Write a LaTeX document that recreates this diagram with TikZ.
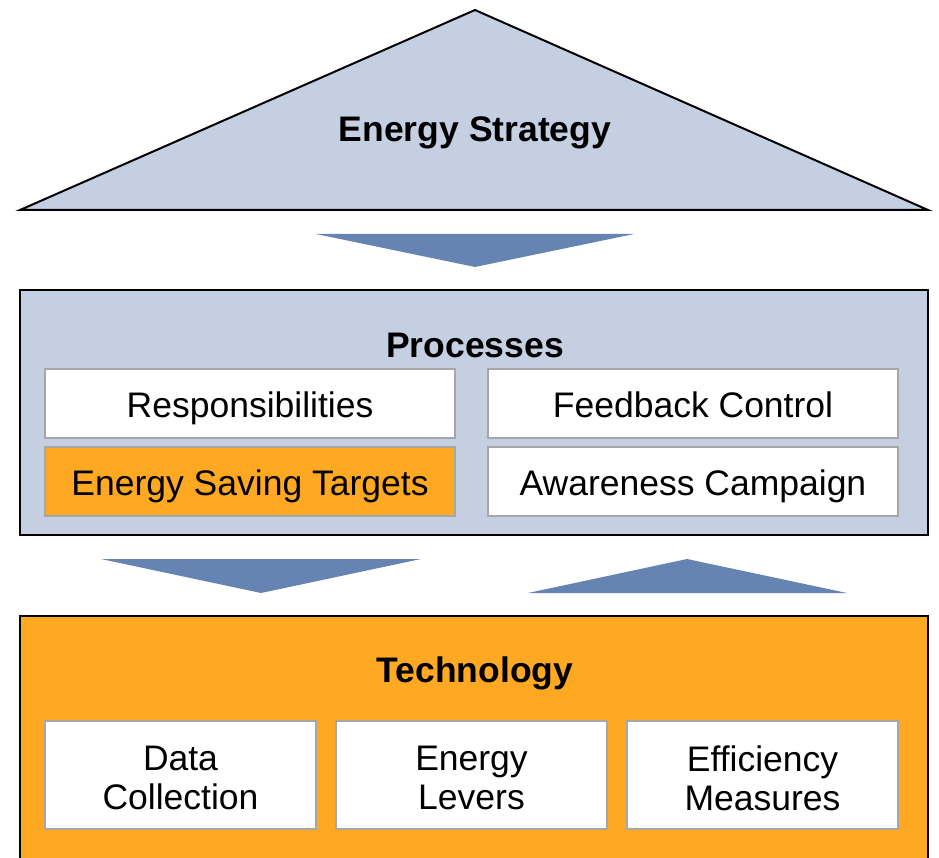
\documentclass[tikz,border=0pt]{standalone}
\usepackage{fontspec}
\setmainfont{Liberation Sans}
\definecolor{paleblue}{HTML}{C4CFE1}
\definecolor{arrowblue}{HTML}{6684B2}
\definecolor{orangefill}{HTML}{FFA922}
\definecolor{boxgray}{HTML}{A6A6A6}
\begin{document}
\begin{tikzpicture}[x=1pt,y=-1pt,
  outerbox/.style={draw=black,line width=2pt},
  innerbox/.style={draw=boxgray,line width=1.5pt,fill=white},
  flowarrow/.style={fill=arrowblue,draw=none},
  title/.style={font=\fontsize{35.5}{39}\selectfont\bfseries,anchor=base,inner sep=0pt},
  label/.style={font=\fontsize{35.5}{39}\selectfont,anchor=base,inner sep=0pt},
  label2/.style={font=\fontsize{35.5}{39}\selectfont,align=center,inner sep=0pt}]
\useasboundingbox (0,0) rectangle (939,858);
\clip (0,0) rectangle (939,858);
% Energy strategy triangle
\draw[outerbox,fill=paleblue,line join=miter] (475,10) -- (928,210) -- (20,210) -- cycle;
\node[title] (strategy) at (475,142) {Energy Strategy};
% arrow strategy -> processes
\fill[flowarrow] (316,234) -- (634,234) -- (475,267) -- cycle;
% Processes box
\draw[outerbox,fill=paleblue] (20,290) rectangle (928,535);
\node[title] (processes) at (475,357) {Processes};
\draw[innerbox] (45,369) rectangle (455,438);
\node[label] (resp) at (250,417) {Responsibilities};
\draw[innerbox] (488,369) rectangle (898,438);
\node[label] (feedback) at (693,417) {Feedback Control};
\draw[innerbox,fill=orangefill] (45,447) rectangle (455,516);
\node[label] (targets) at (250,495) {Energy Saving Targets};
\draw[innerbox] (488,447) rectangle (898,516);
\node[label] (awareness) at (693,495) {Awareness Campaign};
% arrows between processes and technology
\fill[flowarrow] (101,559) -- (421,559) -- (261,593) -- cycle;
\fill[flowarrow] (528,593) -- (847,593) -- (687,559) -- cycle;
% Technology box
\draw[outerbox,fill=orangefill] (20,616) rectangle (928,880);
\node[title] (technology) at (475,682) {Technology};
\draw[innerbox] (45,721) rectangle (316,829);
\node[label2] (data) at (180.5,778) {Data\\Collection};
\draw[innerbox] (336,721) rectangle (607,829);
\node[label2] (levers) at (471.5,778) {Energy\\Levers};
\draw[innerbox] (627,721) rectangle (898,829);
\node[label2] (efficiency) at (762.5,778) {Efficiency\\Measures};
\end{tikzpicture}
\end{document}
